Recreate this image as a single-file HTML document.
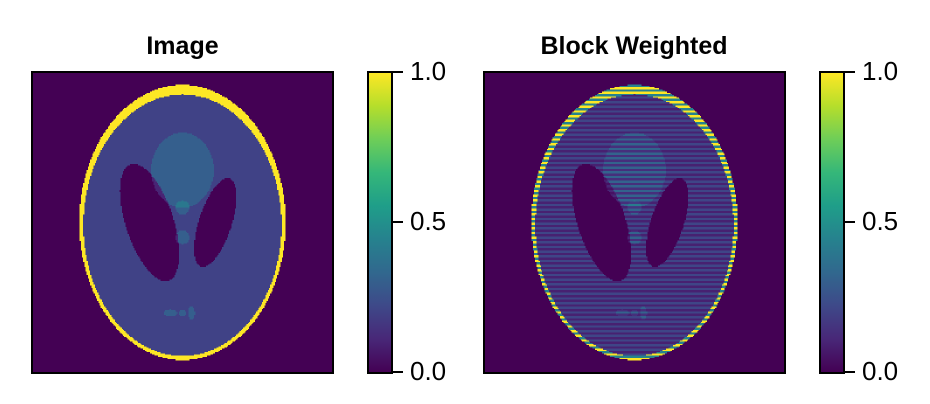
<!DOCTYPE html>
<html><head><meta charset="utf-8"><style>
body{margin:0;background:#fff;width:930px;height:404px;overflow:hidden;position:relative;font-family:"Liberation Sans",Arial,sans-serif}
canvas{position:absolute;image-rendering:pixelated;border:2px solid #000;box-sizing:border-box}
.t{position:absolute;font-weight:bold;font-size:25px;text-align:center}
.cb{position:absolute;border:2px solid #000;box-sizing:border-box;background:linear-gradient(to top,#440154,#482878,#3e4989,#31688e,#26828e,#1f9e89,#35b779,#6ece58,#b5de2b,#fde725)}
.tk{position:absolute;height:2px;width:11px;background:#000}
.lb{position:absolute;font-size:26px}
</style></head><body>
<div class="t" style="left:32px;width:301px;top:32px">Image</div>
<div class="t" style="left:483px;width:302px;top:32px">Block Weighted</div>
<canvas id="c1" width="256" height="256" style="left:31px;top:71px;width:303px;height:303px"></canvas>
<canvas id="c2" width="256" height="256" style="left:483px;top:71px;width:303px;height:303px"></canvas>
<div class="cb" style="left:367px;top:71px;width:26px;height:303px"></div>
<div class="cb" style="left:819px;top:71px;width:26px;height:303px"></div>
<div id="ticks"></div>
<script>
const ellA=[1,-0.8,-0.2,-0.2,0.1,0.1,0.1,0.1,0.1,0.1];
const ellAx=[.69,.6624,.11,.16,.21,.046,.046,.046,.023,.023];
const ellBx=[.92,.874,.31,.41,.25,.046,.046,.023,.023,.046];
const ellX=[0,0,.22,-.22,0,0,0,-.08,0,.06];
const ellY=[0,-.0184,0,0,.35,.1,-.1,-.605,-.606,-.605];
const ellT=[0,0,-18,18,0,0,0,0,0,0];
const tickVals=[0,0.5,1.0];
const tickLabels=["0.0","0.5","1.0"];
const V=[[68,1,84],[72,40,120],[62,73,137],[49,104,142],[38,130,142],[31,158,137],[53,183,121],[110,206,88],[181,222,43],[253,231,37]];
function vir(v){v=Math.max(0,Math.min(1,v));const f=v*9,i=Math.min(8,Math.floor(f)),r=f-i;return V[i].map((c,k)=>Math.round(c+(V[i+1][k]-c)*r));}
const N=256,img=[];
for(let j=0;j<N;j++){img.push([]);for(let i=0;i<N;i++){
 const x=-1+(i+.5)*2/N,y=1-(j+.5)*2/N;let v=0;
 for(let e=0;e<ellA.length;e++){const t=ellT[e]*Math.PI/180,dx=x-ellX[e],dy=y-ellY[e];
  const u=dx*Math.cos(t)+dy*Math.sin(t),w=-dx*Math.sin(t)+dy*Math.cos(t);
  if((u/ellAx[e])**2+(w/ellBx[e])**2<=1)v+=ellA[e];}
 img[j].push(v);}}
function draw(id,fn){const c=document.getElementById(id).getContext('2d');
 for(let j=0;j<N;j++)for(let i=0;i<N;i++){const col=fn(img[j][i],j);c.fillStyle='rgb('+col.join(',')+')';c.fillRect(i,j,1,1);}}
draw('c1',v=>vir(v));
draw('c2',(v,j)=>{const r=Math.floor(j/2);if(r%2==0){return vir(v*1.05);}return vir(v*0.45);});
const tk=document.getElementById('ticks');
[367,819].forEach((x0,p)=>{tickVals.forEach((v,k)=>{const y=372-v*300;
 const t=document.createElement('div');t.className='tk';t.style.left=(x0+25)+'px';t.style.top=(y-1)+'px';
 
 tk.appendChild(t);
 const l=document.createElement('div');l.className='lb';l.textContent=tickLabels[k];l.style.left=(x0+43)+'px';l.style.top=(y-16)+'px';
 
 tk.appendChild(l);});});
</script>
</body></html>
